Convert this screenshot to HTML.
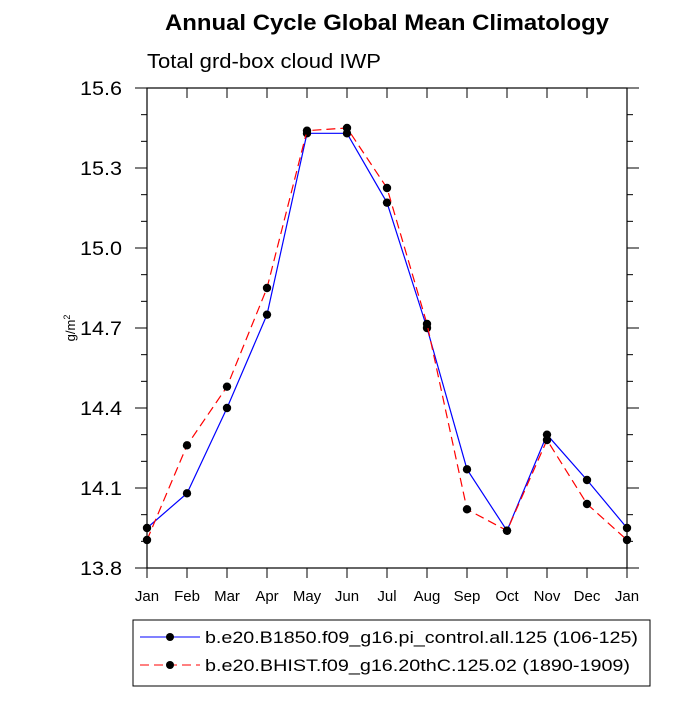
<!DOCTYPE html>
<html><head><meta charset="utf-8"><style>
body{margin:0;background:#fff;}
svg text{font-family:"Liberation Sans",sans-serif;}
</style></head><body>
<svg id="chart" width="700" height="700" xmlns="http://www.w3.org/2000/svg">
<text x="165" y="30" font-size="22" font-weight="bold" textLength="444" lengthAdjust="spacingAndGlyphs">Annual Cycle Global Mean Climatology</text>
<text x="147" y="68" font-size="20" textLength="234" lengthAdjust="spacingAndGlyphs">Total grd-box cloud IWP</text>
<text transform="translate(75,328) rotate(-90)" text-anchor="middle" font-size="13">g/m<tspan dy="-5" font-size="9">2</tspan></text>
<rect x="147" y="88" width="480" height="480" fill="none" stroke="#000" stroke-width="1.2"/>
<g id="axes"></g>
<g id="series"></g>
<rect x="133" y="620" width="517" height="66" fill="none" stroke="#000" stroke-width="1"/>
<g>
<line x1="140" y1="637" x2="200" y2="637" stroke="#0000ff" stroke-width="1"/>
<circle cx="170" cy="637" r="4" fill="#000"/>
<text x="205" y="643" font-size="17" textLength="433" lengthAdjust="spacingAndGlyphs">b.e20.B1850.f09_g16.pi_control.all.125 (106-125)</text>
</g>
<g>
<line x1="140" y1="665" x2="200" y2="665" stroke="#ff0000" stroke-width="1" stroke-dasharray="9,5"/>
<circle cx="170" cy="665" r="4" fill="#000"/>
<text x="205" y="671" font-size="17" textLength="425" lengthAdjust="spacingAndGlyphs">b.e20.BHIST.f09_g16.20thC.125.02 (1890-1909)</text>
</g>
</svg>
<script>
const months = ["Jan","Feb","Mar","Apr","May","Jun","Jul","Aug","Sep","Oct","Nov","Dec","Jan"];
const controlValues = [13.95,14.08,14.40,14.75,15.43,15.43,15.17,14.70,14.17,13.94,14.30,14.13,13.95];
const histValues = [13.905,14.26,14.48,14.85,15.44,15.45,15.225,14.715,14.02,13.94,14.28,14.04,13.905];
const yTicks = ["13.8","14.1","14.4","14.7","15.0","15.3","15.6"];
const NS="http://www.w3.org/2000/svg";
const X0=147,X1=627,Y0=568,Y1=88,YMIN=13.8,YMAX=15.6;
function xs(i){return X0+(X1-X0)*i/(months.length-1);}
function ys(v){return Y0-(v-YMIN)/(YMAX-YMIN)*(Y0-Y1);}
function mk(tag,attrs,parent){const e=document.createElementNS(NS,tag);for(const k in attrs)e.setAttribute(k,attrs[k]);parent.appendChild(e);return e;}
const ax=document.getElementById('axes');
months.forEach((m,i)=>{
  const x=xs(i);
  const t=mk('line',{x1:x,y1:Y0,x2:x,y2:Y0+10,stroke:'#000'},ax);
  
  
  const tt=mk('line',{x1:x,y1:Y1,x2:x,y2:Y1+10,stroke:'#000'},ax);
  
  
  const l=mk('text',{x:x,y:Y0+33,'text-anchor':'middle','font-size':'15'},ax);
  l.textContent=m;
  
  
});
for(let v=YMIN;v<=YMAX+1e-6;v+=0.1){
  const y=ys(v);
  const major=Math.round(v*10)%3===Math.round(YMIN*10)%3;
  const len=major?12:6;
  const a=mk('line',{x1:X0-len,y1:y,x2:X0,y2:y,stroke:'#000'},ax);
  
  
  const b=mk('line',{x1:X1,y1:y,x2:X1+len,y2:y,stroke:'#000'},ax);
  
  
}
yTicks.forEach(s=>{
  const l=mk('text',{x:122,y:ys(parseFloat(s))+7,'text-anchor':'end','font-size':'19',textLength:'42',lengthAdjust:'spacingAndGlyphs'},ax);
  l.textContent=s;
  
  
});
const sg=document.getElementById('series');
function drawSeries(vals,color,dash,name){
  const pts=vals.map((v,i)=>xs(i)+','+ys(v)).join(' ');
  const p=mk('polyline',{points:pts,fill:'none',stroke:color,'stroke-width':1.2},sg);
  if(dash)p.setAttribute('stroke-dasharray',dash);
  
  
  vals.forEach((v,i)=>{
    const c=mk('circle',{cx:xs(i),cy:ys(v),r:4.2,fill:'#000'},sg);
    
    
  });
}
drawSeries(controlValues,'#0000ff',null,'control');
drawSeries(histValues,'#ff0000','9,5','hist');
</script>
</body></html>
